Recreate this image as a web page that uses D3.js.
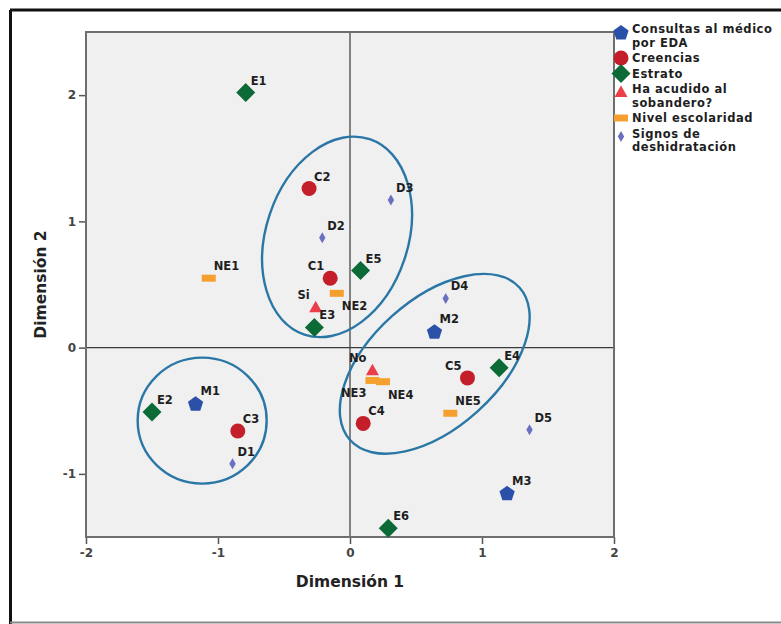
<!DOCTYPE html>
<html>
<head>
<meta charset="utf-8">
<script src="https://cdn.jsdelivr.net/npm/d3@7"></script>
<style>
  html, body { margin: 0; padding: 0; background: #ffffff; }
  svg { display: block; }
</style>
</head>
<body>
<svg id="chart" width="781" height="624"></svg>
<script>
// ---------- data ----------
const groups = ["Consultas al médico por EDA", "Creencias", "Estrato",
                "Ha acudido al sobandero?", "Nivel escolaridad", "Signos de deshidratación"];
const groupLegendLines = [["Consultas al médico", "por EDA"], ["Creencias"], ["Estrato"],
                          ["Ha acudido al", "sobandero?"], ["Nivel escolaridad"], ["Signos de", "deshidratación"]];

const pointLabels = ["M1","M2","M3",
                     "C1","C2","C3","C4","C5",
                     "E1","E2","E3","E4","E5","E6",
                     "Si","No",
                     "NE1","NE2","NE3","NE4","NE5",
                     "D1","D2","D3","D4","D5"];
const pointGroup  = [0,0,0,
                     1,1,1,1,1,
                     2,2,2,2,2,2,
                     3,3,
                     4,4,4,4,4,
                     5,5,5,5,5];
const dim1 = [-1.17, 0.64, 1.19,
              -0.15,-0.31,-0.85, 0.10, 0.89,
              -0.79,-1.50,-0.27, 1.13, 0.08, 0.29,
              -0.26, 0.17,
              -1.07,-0.10, 0.17, 0.25, 0.76,
              -0.89,-0.21, 0.31, 0.725, 1.36];
const dim2 = [-0.44, 0.13,-1.15,
               0.55, 1.26,-0.66,-0.60,-0.24,
               2.02,-0.51, 0.16,-0.16, 0.61,-1.43,
               0.32,-0.18,
               0.55, 0.43,-0.26,-0.27,-0.52,
              -0.92, 0.87, 1.17, 0.39,-0.65];

const xTicks = [-2, -1, 0, 1, 2];
const yTicks = [-1, 0, 1, 2];
const xTitle = "Dimensión 1";
const yTitle = "Dimensión 2";

// cluster ellipses (centres in dimension units)
const ellipseCx = [-0.098, 0.642, -1.12];
const ellipseCy = [0.877, -0.128, -0.578];

// ---------- layout / style ----------
const ellipseShape = [ {rx: 71, ry: 103, rot: 18.5}, {rx: 114, ry: 64, rot: -42}, {rx: 64.5, ry: 63, rot: 0} ];
const colors = ["#2a50a8", "#c41e2a", "#0b6a35", "#ea3f48", "#f5a02e", "#6a6fc2"];
const labelPlace = { C1: "left", Si: "left", No: "left", C5: "left", NE3: "leftBelow", NE2: "below", NE4: "below" };

const svg = d3.select("#chart");
const plot = { left: 86, right: 614, top: 32, bottom: 537 };

const x = d3.scaleLinear().domain([-2, 2]).range([plot.left, plot.right]);
const y = d3.scaleLinear().domain([-1.5, 2.5]).range([plot.bottom, plot.top]);

// outer frame
svg.append("line").attr("x1", 10).attr("y1", 10).attr("x2", 781).attr("y2", 10)
  .attr("stroke", "#111").attr("stroke-width", 3);
svg.append("line").attr("x1", 10.5).attr("y1", 10).attr("x2", 10.5).attr("y2", 624)
  .attr("stroke", "#111").attr("stroke-width", 3);
svg.append("line").attr("x1", 10).attr("y1", 622.5).attr("x2", 781).attr("y2", 622.5)
  .attr("stroke", "#8a8a8a").attr("stroke-width", 2);

// plot background
svg.append("rect").attr("x", plot.left).attr("y", plot.top)
  .attr("width", plot.right - plot.left).attr("height", plot.bottom - plot.top)
  .attr("fill", "#f0f0f0");

// reference lines
svg.append("line").attr("x1", x(0)).attr("x2", x(0)).attr("y1", plot.top).attr("y2", plot.bottom)
  .attr("stroke", "#3a3a3a").attr("stroke-width", 1.2);
svg.append("line").attr("x1", plot.left).attr("x2", plot.right).attr("y1", y(0)).attr("y2", y(0))
  .attr("stroke", "#3a3a3a").attr("stroke-width", 1.2);

// axes
const fmt = d => String(d);
const xAxis = svg.append("g").attr("transform", `translate(0,${plot.bottom})`)
  .call(d3.axisBottom(x).tickValues(xTicks).tickFormat(fmt).tickSize(7).tickPadding(4));
const yAxis = svg.append("g").attr("transform", `translate(${plot.left},0)`)
  .call(d3.axisLeft(y).tickValues(yTicks).tickFormat(fmt).tickSize(7).tickPadding(3));
[xAxis, yAxis].forEach(a => {
  a.select(".domain").remove();
  a.selectAll(".tick line").attr("stroke", "#555").attr("stroke-width", 1.5);
  a.selectAll(".tick text").attr("fill", "#444")
    .style("font-family", "'DejaVu Sans', sans-serif").style("font-size", "12px").style("font-weight", "bold");
});

// plot frame
svg.append("rect").attr("x", plot.left).attr("y", plot.top)
  .attr("width", plot.right - plot.left).attr("height", plot.bottom - plot.top)
  .attr("fill", "none").attr("stroke", "#6e6e6e").attr("stroke-width", 2);

// axis titles
svg.append("text").attr("x", x(0)).attr("y", 587).attr("text-anchor", "middle")
  .style("font-family", "'DejaVu Sans', sans-serif").style("font-size", "15.5px").style("font-weight", "bold")
  .attr("fill", "#222").text(xTitle);
svg.append("text").attr("transform", `translate(46,${(plot.top + plot.bottom) / 2}) rotate(-90)`)
  .attr("text-anchor", "middle")
  .style("font-family", "'DejaVu Sans', sans-serif").style("font-size", "15.5px").style("font-weight", "bold")
  .attr("fill", "#222").text(yTitle);

// marker shapes
function markerPath(g) {
  if (g === 0) { // pentagon
    const r = 8;
    const pts = d3.range(5).map(k => {
      const a = (-90 + 72 * k) * Math.PI / 180;
      return [r * Math.cos(a), r * Math.sin(a) + 1];
    });
    return "M" + pts.map(p => p.join(",")).join("L") + "Z";
  }
  if (g === 1) return d3.symbol(d3.symbolCircle, Math.PI * 7.5 * 7.5)();
  if (g === 2) return "M0,-9.5L9.5,0L0,9.5L-9.5,0Z";
  if (g === 3) return "M0,-6.5L6.5,5L-6.5,5Z";
  if (g === 4) return "M-7,-3.5L7,-3.5L7,3.5L-7,3.5Z";
  return "M0,-5.5L3.2,0L0,5.5L-3.2,0Z";
}

const idx = d3.range(pointLabels.length);

// ellipses
svg.append("g").selectAll("ellipse").data(d3.range(ellipseCx.length)).join("ellipse")
  .attr("cx", 0).attr("cy", 0)
  .attr("rx", i => ellipseShape[i].rx).attr("ry", i => ellipseShape[i].ry)
  .attr("transform", i => `translate(${x(ellipseCx[i])},${y(ellipseCy[i])}) rotate(${ellipseShape[i].rot})`)
  .attr("fill", "none").attr("stroke", "#2a77a6").attr("stroke-width", 2.4);

// points
svg.append("g").selectAll("path").data(idx).join("path")
  .attr("d", i => markerPath(pointGroup[i]))
  .attr("transform", i => `translate(${x(dim1[i])},${y(dim2[i])})`)
  .attr("fill", i => colors[pointGroup[i]]);

// point labels
svg.append("g").selectAll("text").data(idx).join("text")
  .attr("x", i => {
    const p = labelPlace[pointLabels[i]];
    return x(dim1[i]) + (p === "left" || p === "leftBelow" ? -6 : 5);
  })
  .attr("y", i => {
    const p = labelPlace[pointLabels[i]];
    return y(dim2[i]) + (p === "below" || p === "leftBelow" ? 17 : -8);
  })
  .attr("text-anchor", i => {
    const p = labelPlace[pointLabels[i]];
    return (p === "left" || p === "leftBelow") ? "end" : "start";
  })
  .style("font-family", "'DejaVu Sans', sans-serif").style("font-size", "11.5px").style("font-weight", "bold")
  .attr("fill", "#1e1e1e")
  .text(i => pointLabels[i]);

// legend
const legend = svg.append("g");
let ly = 33;
const lineH = 13.5, gapH = 2;
groupLegendLines.forEach((lines, g) => {
  const my = ly - 4 + (lines.length > 1 ? 3 : 0);
  legend.append("path").attr("d", markerPath(g))
    .attr("transform", `translate(621,${my})`).attr("fill", colors[g]);
  lines.forEach((t, k) => {
    legend.append("text").attr("x", 632).attr("y", ly + k * lineH)
      .style("font-family", "'DejaVu Sans', sans-serif").style("font-size", "11.5px").style("font-weight", "bold")
      .style("letter-spacing", "0.55px")
      .attr("fill", "#1e1e1e").text(t);
  });
  ly += lines.length * lineH + gapH;
});
</script>
</body>
</html>
